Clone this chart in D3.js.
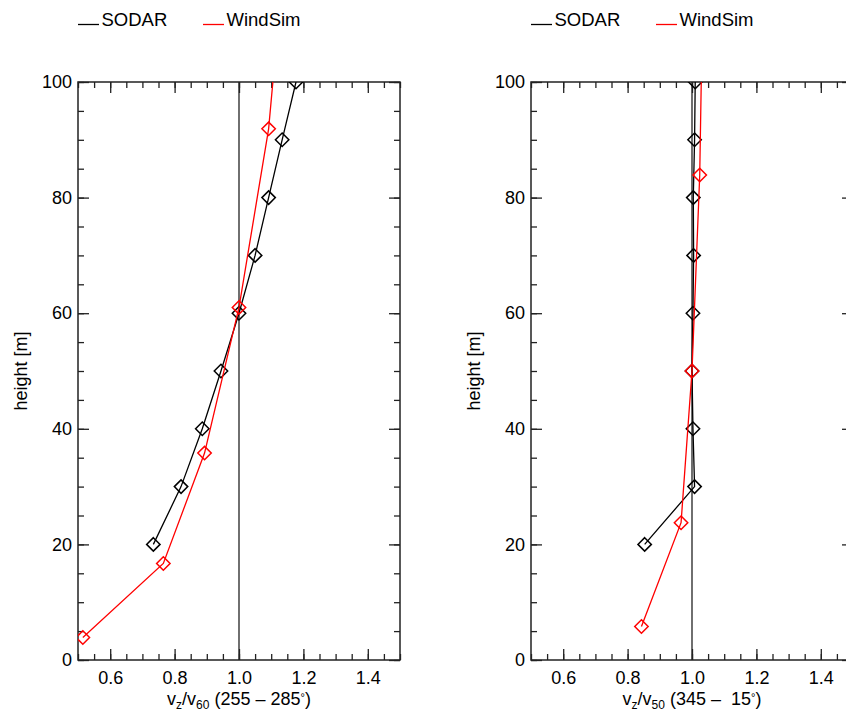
<!DOCTYPE html>
<html>
<head>
<meta charset="utf-8">
<script src="https://cdn.jsdelivr.net/npm/d3@7"></script>
<style>
  body { margin: 0; background: #fff; }
  svg { font-family: "Liberation Sans", Arial, Helvetica, sans-serif; display: block; }
  .tick text { font-size: 18px; fill: #000; }
  .tick line { stroke: #222; stroke-width: 1.3; }
</style>
</head>
<body>
<div id="chart"></div>
<script>
// heights of the SODAR measurements [m]
const sodarHeights = [20, 30, 40, 50, 60, 70, 80, 90, 100];

// left panel, 255 - 285 deg, normalised by v60
const sodarLeft = [0.734, 0.820, 0.886, 0.944, 1.000, 1.050, 1.092, 1.134, 1.177];
const windsimLeftHeights = [3.9, 16.7, 35.8, 61, 91.9, 122];
const windsimLeft = [0.515, 0.765, 0.893, 1.000, 1.092, 1.141];

// right panel, 345 - 15 deg, normalised by v50
const sodarRight = [0.853, 1.008, 1.003, 1.000, 1.003, 1.005, 1.004, 1.008, 1.010];
const windsimRightHeights = [5.8, 23.75, 50, 83.9, 118];
const windsimRight = [0.843, 0.966, 1.000, 1.024, 1.034];

const xMajor = [0.6, 0.8, 1.0, 1.2, 1.4];
const yMajor = [0, 20, 40, 60, 80, 100];
const xMinor = d3.range(0, 21).map(i => 0.5 + i * 0.05);
const yMinor = d3.range(0, 21).map(i => i * 5);

const W = 846, H = 714;
const svg = d3.select("#chart").append("svg")
    .attr("width", W)
    .attr("height", H);

const plotTop = 82, plotBottom = 660;

function drawPanel(id, left, right, sodar, wsH, ws, sub, dirText) {
  const x = d3.scaleLinear().domain([0.5, 1.5]).range([left, right]);
  const y = d3.scaleLinear().domain([0, 100]).range([plotBottom, plotTop]);

  const g = svg.append("g");

  g.append("clipPath").attr("id", "clip" + id)
    .append("rect")
      .attr("x", left).attr("y", plotTop)
      .attr("width", right - left).attr("height", plotBottom - plotTop);

  // frame
  g.append("rect")
      .attr("x", left).attr("y", plotTop)
      .attr("width", right - left).attr("height", plotBottom - plotTop)
      .attr("fill", "none")
      .attr("stroke", "#222")
      .attr("stroke-width", 1.5);

  // major + minor ticks, all pointing inward
  g.append("g").attr("transform", `translate(0,${plotBottom})`)
      .call(d3.axisBottom(x).tickValues(xMajor).tickSize(-11).tickPadding(11).tickFormat(d3.format(".1f")));
  g.append("g").attr("transform", `translate(0,${plotBottom})`)
      .call(d3.axisBottom(x).tickValues(xMinor).tickSize(-6).tickFormat(""));
  g.append("g").attr("transform", `translate(0,${plotTop})`)
      .call(d3.axisTop(x).tickValues(xMajor).tickSize(-11).tickFormat(""));
  g.append("g").attr("transform", `translate(0,${plotTop})`)
      .call(d3.axisTop(x).tickValues(xMinor).tickSize(-6).tickFormat(""));
  g.append("g").attr("transform", `translate(${left},0)`)
      .call(d3.axisLeft(y).tickValues(yMajor).tickSize(-11).tickPadding(6));
  g.append("g").attr("transform", `translate(${left},0)`)
      .call(d3.axisLeft(y).tickValues(yMinor).tickSize(-6).tickFormat(""));
  g.append("g").attr("transform", `translate(${right},0)`)
      .call(d3.axisRight(y).tickValues(yMajor).tickSize(-11).tickFormat(""));
  g.append("g").attr("transform", `translate(${right},0)`)
      .call(d3.axisRight(y).tickValues(yMinor).tickSize(-6).tickFormat(""));
  g.selectAll(".domain").remove();
  g.selectAll(".tick text").attr("font-family", null).attr("font-size", null);

  // reference line at 1.0
  g.append("line")
      .attr("x1", x(1)).attr("x2", x(1))
      .attr("y1", plotBottom).attr("y2", plotTop)
      .attr("stroke", "#222")
      .attr("stroke-width", 1.3);

  const plot = g.append("g").attr("clip-path", `url(#clip${id})`);
  const line = d3.line().x(d => x(d[0])).y(d => y(d[1]));
  const diamond = d3.symbol().type(d3.symbolDiamond2).size(115);

  const series = [
    { color: "#000", pts: sodar.map((v, i) => [v, sodarHeights[i]]) },
    { color: "#f00", pts: ws.map((v, i) => [v, wsH[i]]) }
  ];
  series.forEach(s => {
    plot.append("path")
        .datum(s.pts)
        .attr("d", line)
        .attr("fill", "none")
        .attr("stroke", s.color)
        .attr("stroke-width", 1.3);
    plot.selectAll(null)
      .data(s.pts)
      .join("path")
        .attr("transform", d => `translate(${x(d[0])},${y(d[1])})`)
        .attr("d", diamond)
        .attr("fill", "none")
        .attr("stroke", s.color)
        .attr("stroke-width", 1.5);
  });

  // axis titles
  const xt = g.append("text")
      .attr("x", left + 161)
      .attr("y", 705)
      .attr("text-anchor", "middle")
      .attr("font-size", 18)
      .attr("xml:space", "preserve");
  xt.append("tspan").text("v");
  xt.append("tspan").attr("font-size", 12).attr("dy", 4).text("z");
  xt.append("tspan").attr("dy", -4).text("/v");
  xt.append("tspan").attr("font-size", 12).attr("dy", 4).text(sub);
  xt.append("tspan").attr("dy", -4).text(dirText);
  xt.append("tspan").attr("font-size", 11).attr("dy", -4).text("\u00b0");
  xt.append("tspan").attr("dy", 4).text(")");

  g.append("text")
      .attr("transform", `translate(${left - 51},${371}) rotate(-90)`)
      .attr("text-anchor", "middle")
      .attr("font-size", 18)
      .text("height [m]");

  // legend
  const lg = g.append("g").attr("font-size", 18.5);
  [["SODAR", "#000", 0], ["WindSim", "#f00", 125]].forEach(([name, c, dx]) => {
    lg.append("line")
        .attr("x1", left + dx).attr("x2", left + dx + 21)
        .attr("y1", 24.5).attr("y2", 24.5)
        .attr("stroke", c).attr("stroke-width", 1.3);
    lg.append("text")
        .attr("x", left + dx + 23.5).attr("y", 25.5)
        .text(name);
  });
}

drawPanel("L", 78, 400, sodarLeft, windsimLeftHeights, windsimLeft, "60", " (255 \u2013 285");
drawPanel("R", 531, 853, sodarRight, windsimRightHeights, windsimRight, "50", " (345 \u2013  15");
</script>
</body>
</html>
